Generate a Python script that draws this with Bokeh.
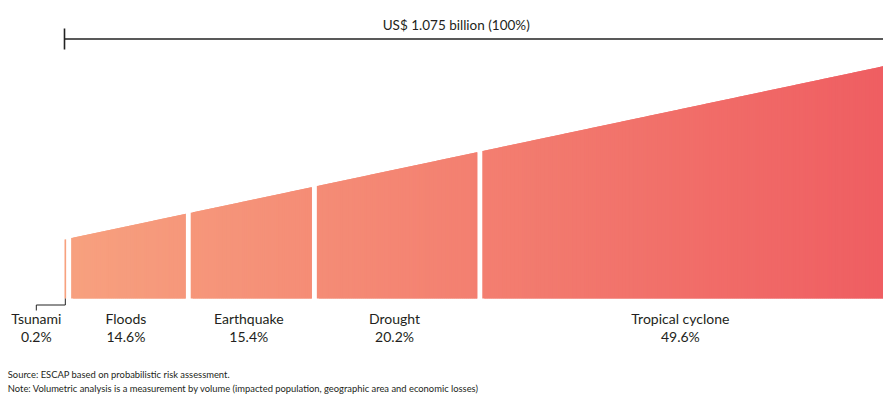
import numpy as np
from bokeh.plotting import figure
from bokeh.models import ColumnDataSource, Range1d
from bokeh.core.properties import value
from bokeh.embed import file_html
from bokeh.resources import INLINE

# Share of total losses by hazard (percent of US$ 1.075 billion)
hazards = ["Tsunami", "Floods", "Earthquake", "Drought", "Tropical cyclone"]
shares = [0.2, 14.6, 15.4, 20.2, 49.6]
total_label = "US$ 1.075 billion (100%)"
source_note = "Source: ESCAP based on probabilistic risk assessment."
method_note = ("Note: Volumetric analysis is a measurement by volume "
               "(impacted population, geographic area and economic losses)")

W, H = 883, 397
X0_PX, X1_PX = 64, 883             # left / right pixel edges of the 0-100 scale
PX = (X1_PX - X0_PX) / 100.0       # pixels per percent
BASE_Y = 298                       # wedge baseline (pixels from top)
H_LEFT, H_RIGHT = 59, 232.3        # wedge height at 0% and at 100%
GAP = 5 / PX                       # white gap between segments, in percent units
C_LEFT = np.array([247, 161, 127])
C_RIGHT = np.array([239, 94, 98])
TEXT = "#231f20"
FONT = "Lato"

p = figure(width=W, height=H, output_backend="svg", toolbar_location=None,
           x_range=Range1d(-X0_PX / PX, 100), y_range=Range1d(H, 0),
           x_axis_location=None, y_axis_location=None, min_border=0)
p.grid.visible = False
p.outline_line_color = None
p.background_fill_color = "white"
p.border_fill_color = "white"


def top(x):
    return BASE_Y - (H_LEFT + (H_RIGHT - H_LEFT) * np.asarray(x) / 100.0)


def colour(x):
    c = C_LEFT + (C_RIGHT - C_LEFT) * (x / 100.0)
    return "#%02x%02x%02x" % tuple(int(round(v)) for v in c)


# Each segment is filled with thin vertical strips giving a left-to-right gradient.
# Every strip but the last reaches into its neighbour so no hairline seams show.
ends = np.cumsum(shares)
starts = ends - np.array(shares)
xs, ys, cols = [], [], []
for i, (s, e) in enumerate(zip(starts, ends)):
    a = s + (GAP if i > 0 else 0)
    n = max(1, int(np.ceil((e - a) * PX / 2)))
    edges = np.linspace(a, e, n + 1)
    step = edges[1] - edges[0]
    for k, (l, r) in enumerate(zip(edges[:-1], edges[1:])):
        rr = r if k == n - 1 else min(e, r + step)
        xs.append([l, rr, rr, l])
        ys.append([BASE_Y, BASE_Y, float(top(rr)), float(top(l))])
        cols.append(colour((l + r) / 2))

strips = ColumnDataSource(dict(xs=xs, ys=ys, c=cols))
p.patches("xs", "ys", source=strips, fill_color="c", line_color=None)

# Bracket spanning the full total
p.line([0, 100], [38.5, 38.5], line_color="#222222", line_width=1.6)
p.line([0, 0], [28, 49], line_color="#222222", line_width=1.6)
p.text([(455.7 - X0_PX) / PX], [24], text=[total_label], text_align="center",
       text_baseline="alphabetic", text_color=TEXT, text_font=value(FONT),
       text_font_size="13.5px")

# Category labels centred under their segments; the tiny first one is offset with a leader
centres = list((starts + ends) / 2)
label_x = list(centres)
label_x[0] = centres[0] - 29 / PX
p.line([centres[0], centres[0], label_x[0], label_x[0]], [298, 304.5, 304.5, 310],
       line_color="#222222", line_width=1)

pct_text = ["%.1f%%" % v for v in shares]
lab = ColumnDataSource(dict(x=label_x, name=hazards, pct=pct_text))
p.text("x", 318.3, text="name", source=lab, text_align="center",
       text_baseline="alphabetic", text_color=TEXT, text_font=value(FONT),
       text_font_size="14px")
p.text("x", 336.3, text="pct", source=lab, text_align="center",
       text_baseline="alphabetic", text_color=TEXT, text_font=value(FONT),
       text_font_size="14px")

# Footnotes
note_x = (7.3 - X0_PX) / PX
p.text([note_x, note_x], [374, 387.5], text=[source_note, method_note],
       text_align="left", text_baseline="alphabetic", text_color=TEXT,
       text_font=value(FONT), text_font_size="9.4px")

open("out.html", "w").write(file_html(p, INLINE))
